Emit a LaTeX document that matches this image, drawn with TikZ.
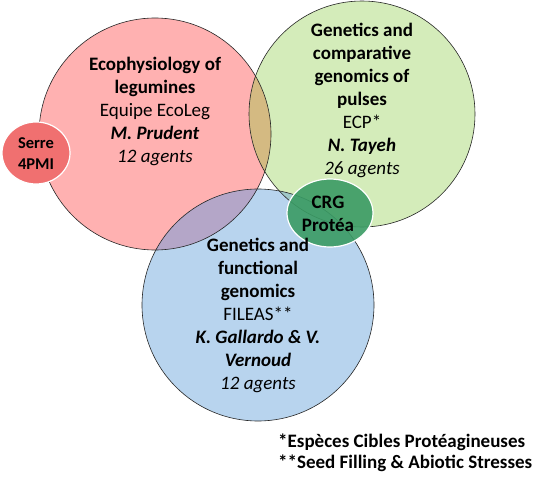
\documentclass[tikz,border=0pt]{standalone}
\usepackage{fontspec}
\setmainfont{Carlito}
\definecolor{pinkf}{RGB}{255,177,177}
\definecolor{greenf}{RGB}{212,236,186}
\definecolor{bluef}{RGB}{184,212,238}
\definecolor{rgov}{RGB}{212,186,130}
\definecolor{rbov}{RGB}{180,166,200}
\definecolor{gbov}{RGB}{160,200,200}
\definecolor{serref}{RGB}{240,112,112}
\definecolor{crgf}{RGB}{58,155,100}
\begin{document}
\begin{tikzpicture}[x=1pt,y=1pt,
  circ/.style={draw=black!85,line width=0.6pt},
  lbl/.style={align=center,font=\fontsize{19}{23}\selectfont,inner sep=0pt},
  small/.style={draw=white,line width=1.2pt}]
\useasboundingbox (0,0) rectangle (548,488);
\def\red{(155,354) circle (116)}
\def\grn{(362,374) circle (113)}
\def\blu{(258,183) circle (116)}
% fills
\fill[pinkf] \red;
\fill[greenf] \grn;
\fill[bluef] \blu;
\begin{scope}\clip \red; \fill[rgov] \grn; \end{scope}
\begin{scope}\clip \red; \fill[rbov] \blu; \end{scope}
\begin{scope}\clip \grn; \fill[gbov] \blu; \end{scope}
% outlines
\draw[circ] \red;
\draw[circ] \grn;
\draw[circ] \blu;
% small ellipses
\draw[small,fill=serref] (36,335) ellipse (34 and 31);
\node[font=\fontsize{16.5}{21}\selectfont\bfseries,align=center,inner sep=0pt] (serre) at (36,334.5) {Serre\\4PMI};
\draw[small,fill=crgf,fill opacity=0.9] (330,275) ellipse (43 and 34);
\node[font=\fontsize{19}{23}\selectfont\bfseries,align=center,inner sep=0pt] (crg) at (328,274.5) {CRG\\Protéa};
% texts
\node[lbl] (eco) at (155,376.5) {\textbf{Ecophysiology of}\\\textbf{legumines}\\Equipe EcoLeg\\\textbf{\textit{M. Prudent}}\\\textit{12 agents}};
\node[lbl] (ecp) at (362,388) {\textbf{Genetics and}\\\textbf{comparative}\\\textbf{genomics of}\\\textbf{pulses}\\ECP*\\\textbf{\textit{N. Tayeh}}\\\textit{26 agents}};
\node[lbl] (fil) at (258,172.5) {\textbf{Genetics and}\\\textbf{functional}\\\textbf{genomics}\\FILEAS**\\\textbf{\textit{K. Gallardo \& V.}}\\\textbf{\textit{Vernoud}}\\\textit{12 agents}};
\node[align=left,anchor=west,font=\fontsize{19}{21}\selectfont\bfseries,inner sep=0pt] (foot) at (278,35.5) {*Espèces Cibles Protéagineuses\\**Seed Filling \& Abiotic Stresses};
\end{tikzpicture}
\end{document}
